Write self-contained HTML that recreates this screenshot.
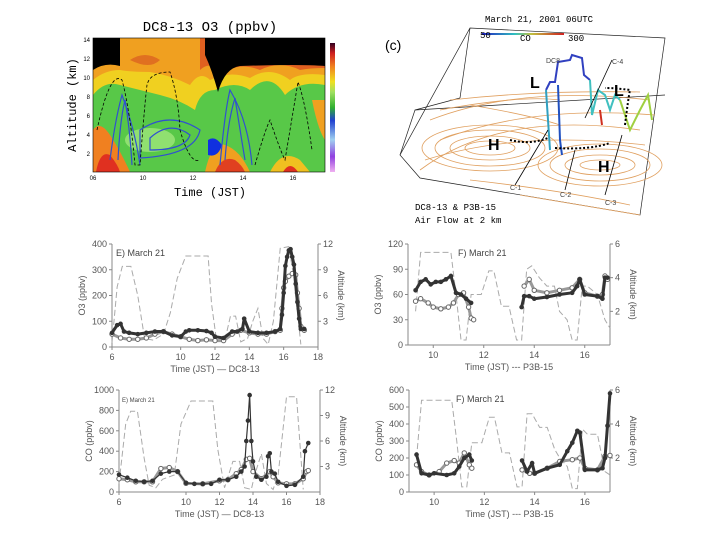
<!DOCTYPE html>
<html><head><meta charset="utf-8">
<style>
html,body{margin:0;padding:0;background:#fff;}
#root{position:relative;width:720px;height:540px;overflow:hidden;font-family:"Liberation Sans",sans-serif;}
svg text{font-family:"Liberation Sans",sans-serif;}
.mono{font-family:"Liberation Mono",monospace;}
</style></head>
<body>
<div id="root">
<svg id="heat" width="720" height="540" style="position:absolute;left:0;top:0">
  <defs>
    <linearGradient id="cbar" x1="0" y1="1" x2="0" y2="0">
      <stop offset="0" stop-color="#f0b0f0"/><stop offset="0.12" stop-color="#9040e0"/>
      <stop offset="0.25" stop-color="#a0d0f0"/><stop offset="0.4" stop-color="#2040d0"/>
      <stop offset="0.5" stop-color="#30b030"/><stop offset="0.62" stop-color="#a0e060"/>
      <stop offset="0.7" stop-color="#f0e020"/><stop offset="0.82" stop-color="#f08020"/>
      <stop offset="0.92" stop-color="#d02020"/><stop offset="1" stop-color="#300020"/>
    </linearGradient>
    <linearGradient id="cline" x1="0" x2="1"><stop offset="0" stop-color="#2020c0"/><stop offset="0.4" stop-color="#30c0c0"/><stop offset="0.6" stop-color="#c0c040"/><stop offset="1" stop-color="#d02020"/></linearGradient>
  </defs>
  <text class="mono" x="210" y="31" font-size="14" text-anchor="middle">DC8-13 O3 (ppbv)</text>
  <g>
    <rect x="93" y="38" width="232" height="134" fill="#58c848"/>
    <path d="M93,38 H325 V85 Q300,80 285,95 Q270,70 250,90 Q235,80 215,90 Q200,90 195,110 Q180,100 160,95 Q140,90 120,85 Q105,80 93,95Z" fill="#f0d020"/>
    <path d="M93,38 H325 V75 Q300,72 290,80 Q270,65 250,78 Q230,70 210,80 Q200,70 190,85 Q170,75 150,72 Q130,72 120,70 Q105,70 93,80Z" fill="#f0a020"/>
    <path d="M93,38 H325 V68 Q310,68 300,70 Q280,60 260,70 Q240,62 225,72 Q210,60 200,70 L200,38Z" fill="#e06020"/>
    <path d="M130,60 Q145,50 160,60 Q150,70 130,60Z" fill="#e07020"/>
    <path d="M93,38 H120 V66 Q105,62 93,70Z" fill="#000"/>
    <path d="M205,38 H325 V66 Q300,64 240,66 Q225,68 218,92 Q212,70 205,55Z" fill="#000"/>
    <path d="M93,172 V130 Q100,120 110,135 Q120,150 130,172Z" fill="#f08020"/>
    <path d="M96,172 Q100,150 110,155 Q118,165 120,172Z" fill="#e03020"/>
    <path d="M205,172 Q212,140 225,145 Q240,150 250,172Z" fill="#f0a020"/>
    <path d="M215,172 Q222,155 235,160 Q242,165 245,172Z" fill="#e04020"/>
    <path d="M270,172 Q282,148 300,160 Q310,172 310,172Z" fill="#f0c020"/>
    <path d="M283,172 Q290,160 298,172Z" fill="#e03020"/>
    <path d="M312,100 Q318,130 325,140 V100Z" fill="#f0a020"/>
    <path d="M208,140 Q215,135 222,145 Q218,158 208,155Z" fill="#1030e0"/>
    <ellipse cx="150" cy="140" rx="25" ry="12" fill="#90e070"/>
    <g fill="none" stroke="#3050d0" stroke-width="1.2">
      <path d="M150,138 Q170,120 190,135 Q185,150 150,150Z"/><path d="M140,130 Q170,110 200,130 Q195,155 140,158Z"/>
      <path d="M118,160 Q120,120 125,100 Q130,130 132,165"/><path d="M110,160 Q115,120 122,95 Q135,130 140,165"/>
      <path d="M225,160 Q228,120 235,98 Q240,130 245,160"/><path d="M220,165 Q225,110 230,90 Q248,120 252,165"/>
    </g>
    <g fill="none" stroke="#000" stroke-width="0.8" stroke-dasharray="3,2">
      <path d="M97,130 Q110,70 122,80 Q130,110 135,165 L140,165 Q145,100 147,85 Q150,72 170,72 Q178,95 180,130 Q190,165 200,160"/>
      <path d="M255,165 Q265,130 270,120 Q280,150 285,160 Q295,100 298,82 Q305,100 312,150"/>
    </g>
  </g>
  <rect x="93" y="38" width="232" height="134" fill="none" stroke="#000" stroke-width="0.6"/>
  <g font-size="6">
    <text x="90" y="42" text-anchor="end">14</text><text x="90" y="61" text-anchor="end">12</text>
    <text x="90" y="80" text-anchor="end">10</text><text x="90" y="99" text-anchor="end">8</text>
    <text x="90" y="118" text-anchor="end">6</text><text x="90" y="137" text-anchor="end">4</text>
    <text x="90" y="156" text-anchor="end">2</text>
  </g>
  <g font-size="6" text-anchor="middle">
    <text x="93" y="180">06</text><text x="143" y="180">10</text><text x="193" y="180">12</text>
    <text x="243" y="180">14</text><text x="293" y="180">16</text>
  </g>
  <text class="mono" x="210" y="196" font-size="12" text-anchor="middle">Time (JST)</text>
  <text class="mono" x="76" y="105" font-size="12" text-anchor="middle" transform="rotate(-90 76 105)">Altitude (km)</text>
  <rect x="330" y="43" width="5" height="129" fill="url(#cbar)"/>

  <g>
    <text class="mono" x="485" y="22" font-size="9">March 21, 2001  06UTC</text>
    <text x="385" y="50" font-size="14">(c)</text>
    <g fill="none" stroke="#222" stroke-width="0.7">
      <path d="M400,155 L470,28 L665,38 L640,215 L420,178 Z"/>
      <path d="M470,28 L460,98"/><path d="M400,155 L415,110 L665,95"/><path d="M415,110 L460,98"/>
    </g>
    <g fill="none" stroke="#e0a060" stroke-width="0.8">
      <ellipse cx="490" cy="148" rx="55" ry="18"/><ellipse cx="490" cy="148" rx="40" ry="12"/><ellipse cx="490" cy="148" rx="25" ry="7"/><ellipse cx="490" cy="148" rx="68" ry="23"/>
      <ellipse cx="600" cy="165" rx="50" ry="16"/><ellipse cx="600" cy="165" rx="35" ry="10"/><ellipse cx="600" cy="165" rx="20" ry="5"/><ellipse cx="600" cy="165" rx="62" ry="21"/>
      <path d="M420,170 Q500,110 640,130"/><path d="M430,120 Q520,85 650,100"/><path d="M440,140 Q530,105 655,115"/>
      <path d="M425,160 Q520,130 645,145"/><path d="M450,100 Q540,90 640,92"/><path d="M470,180 Q560,190 630,205"/>
      <path d="M520,195 Q580,205 640,215"/><path d="M440,110 Q520,95 560,100"/><path d="M470,105 Q530,115 560,125"/>
    </g>
    <rect x="482" y="33" width="82" height="2" fill="url(#cline)"/>
    <text class="mono" x="480" y="38" font-size="9">50</text>
    <text class="mono" x="520" y="41" font-size="9">CO</text>
    <text class="mono" x="568" y="41" font-size="9">300</text>
    <g fill="none" stroke-width="2">
      <path d="M546,90 L550,82 L555,82 L558,62 L570,60 L572,55 L582,58 L584,75 L590,80" stroke="#3040c0"/>
      <path d="M546,90 L548,120 L550,150" stroke="#30a0c0"/>
      <path d="M558,85 L560,140 L562,155" stroke="#2050c0"/>
      <path d="M590,80 L592,115 L598,90 L605,95 L610,110 L615,95 L620,100" stroke="#40c0c0"/>
      <path d="M620,100 L630,130 L640,110 L648,95 L652,120" stroke="#a0d040"/>
      <path d="M600,110 L602,125" stroke="#d03020"/>
    </g>
    <g fill="none" stroke="#000" stroke-width="2" stroke-dasharray="2,2">
      <path d="M510,140 Q530,145 548,138"/><path d="M555,148 Q590,150 610,143"/><path d="M625,125 Q628,100 630,90 Q615,88 605,88"/>
    </g>
    <g stroke="#000" stroke-width="0.8">
      <line x1="515" y1="185" x2="548" y2="130"/><line x1="565" y1="190" x2="575" y2="150"/>
      <line x1="605" y1="195" x2="622" y2="135"/><line x1="612" y1="60" x2="585" y2="118"/>
    </g>
    <g font-family="Liberation Serif" font-weight="bold" font-size="16">
      <text x="530" y="88">L</text><text x="614" y="96">L</text><text x="488" y="150">H</text><text x="598" y="172">H</text>
    </g>
    <g font-size="7" fill="#444"><text x="546" y="63">DC8</text><text x="612" y="64">C-4</text><text x="510" y="190">C-1</text><text x="560" y="197">C-2</text><text x="605" y="205">C-3</text></g>
    <text class="mono" x="415" y="210" font-size="9">DC8-13 &amp; P3B-15</text>
    <text class="mono" x="415" y="223" font-size="9">Air Flow at 2 km</text>
  </g>
</svg>
<svg id="charts" width="720" height="540" style="position:absolute;left:0;top:0"></svg>
<script>
const eTimesA=[6,6.3,6.5,6.7,7,7.5,8,8.5,9,9.5,10,10.3,10.5,11,11.5,11.8,12,12.5,13,13.3,13.6,13.7,14,14.5,15,15.5,15.8,15.9,16,16.1,16.2,16.3,16.4,16.5,16.6,16.7,16.8,16.9,17,17.2];
const eO3A=[55,85,90,60,55,50,55,60,60,45,40,60,65,65,62,55,40,35,60,60,70,110,60,55,55,60,70,125,210,315,350,375,380,350,320,245,175,110,70,70];
const eTimesB=[6,6.5,7,7.5,8,8.5,9,9.5,10,10.5,11,11.5,12,12.5,13,13.5,14,14.5,15,15.5,15.8,15.9,16,16.1,16.3,16.5,16.7,16.8,16.9,17,17.2];
const eO3B=[50,35,30,30,35,50,60,50,40,30,25,28,25,25,50,65,55,50,50,60,65,150,230,255,275,285,280,210,150,80,65];
const eAltT=[6,6.3,6.6,7.1,7.5,7.9,8.4,9.0,9.4,9.8,10.3,11.6,11.8,12.1,12.6,12.9,13.2,13.5,13.9,14.2,14.5,14.8,15.1,15.4,15.8,16.3,16.6,17.0];
const eAlt=[0.5,7,9.4,9.4,6,1,0.8,1.5,4,8,10.6,10.6,5,0.6,1,3.6,3.6,0.6,1,3,4.5,1,0.3,3,11.5,11.7,8,0.3];
const fTimesA=[9.3,9.5,9.7,9.9,10.1,10.3,10.5,10.7,10.9,11.1,11.3,11.5,13.5,13.6,13.8,14,14.5,15,15.5,15.7,15.8,16,16.5,16.7,16.8,16.9];
const fO3A=[65,75,78,72,75,75,78,82,62,60,55,50,45,58,58,55,57,60,62,70,78,60,58,55,80,80];
const fTimesB=[9.3,9.5,9.8,10,10.3,10.6,10.8,11,11.2,11.4,11.5,11.6,13.6,13.8,14,14.5,15,15.5,15.8,16,16.5,16.7,16.8,16.9];
const fO3B=[52,55,50,45,43,45,50,60,62,45,32,30,70,78,65,62,65,68,78,62,58,60,82,78];
const fAltT=[9.3,9.5,10.7,10.9,11.1,11.3,11.5,11.9,12.2,12.4,12.7,13,13.3,13.5,13.7,13.9,14.2,14.5,14.8,15,15.3,15.5,15.7,15.9,16.1,16.5,16.8,17];
const fAlt=[2,5.5,5.5,3,0.3,0.3,3,3,4.4,4.4,2.3,2.3,0.3,0.3,4.5,4.7,4,3.5,3.5,2,1.5,0.3,0.3,3.5,3.5,3,1.5,1];
const gTimesA=[6,6.5,7,7.5,8,8.5,9,9.5,10,10.5,11,11.5,12,12.5,13,13.3,13.5,13.6,13.7,13.8,13.9,14,14.2,14.5,14.8,14.9,15,15.1,15.3,15.5,16,16.5,17,17.1,17.3];
const gCOA=[170,140,110,100,110,180,200,200,90,80,80,80,120,120,150,200,250,500,700,950,500,300,150,120,150,350,380,200,180,100,60,70,150,400,480];
const gTimesB=[6,6.5,7,7.5,8,8.5,9,9.5,10,11,12,12.5,13,13.3,13.6,13.8,14,14.5,15,15.2,15.5,16,16.5,17,17.2,17.3];
const gCOB=[130,120,100,100,100,230,240,200,85,80,110,120,180,220,320,330,200,130,200,150,90,80,80,130,200,210];
const gAltT=[6,6.4,6.7,7.1,7.5,7.8,8.2,8.6,9.3,9.7,10.3,11.6,11.9,12.3,12.8,13.2,13.5,13.9,14.1,14.5,14.8,15.2,15.5,16.0,16.6,17.0];
const gAlt=[1,8,9.5,9.5,4,0.8,0.5,1.5,2,8,10.7,10.7,5,0.5,3.6,3.6,0.5,0.3,2,4.5,1,0.3,2,11.2,11.2,0.3];
const hTimesA=[9.3,9.5,9.8,10,10.5,10.8,11,11.2,11.4,11.5,13.5,13.7,13.9,14,14.5,15,15.3,15.5,15.7,15.8,16,16.5,16.7,16.8,16.9,17];
const hCOA=[220,110,100,110,100,110,150,200,220,185,185,120,170,110,140,160,240,290,360,350,130,130,140,200,390,580];
const hTimesB=[9.3,9.5,9.8,10.2,10.5,10.8,11,11.2,11.4,11.5,13.5,13.8,14,14.5,15,15.5,15.8,16,16.5,16.8,17];
const hCOB=[160,120,100,120,170,185,170,230,160,140,130,110,110,140,180,190,200,140,130,210,215];
const hAltT=[9.3,9.5,10.7,10.9,11.1,11.3,11.5,11.9,12.2,12.4,12.7,13,13.3,13.5,13.7,13.9,14.2,14.5,14.8,15,15.3,15.5,15.7,15.9,16.1,16.5,16.8,17];
const hAlt=[2,5.4,5.4,3,0.3,0.3,2.9,2.9,4.4,4.4,2.3,2.3,0.3,0.3,4.6,4.6,3.8,3.8,2.5,2,1.5,0.2,0.2,3.7,3.4,3.4,1.2,1];

const eXTicks=[6,10,12,14,16,18], eYTicks=[0,100,200,300,400], eRTicks=[3,6,9,12];
const fXTicks=[10,12,14,16], fYTicks=[0,30,60,90,120], fRTicks=[2,4,6];
const gXTicks=[6,10,12,14,16,18], gYTicks=[0,200,400,600,800,1000], gRTicks=[3,6,9,12];
const hXTicks=[10,12,14,16], hYTicks=[0,100,200,300,400,500,600], hRTicks=[2,4,6];

const NS='http://www.w3.org/2000/svg';
const root=document.getElementById('charts');
function mk(tag,attrs,parent){const e=document.createElementNS(NS,tag);for(const k in attrs)e.setAttribute(k,attrs[k]);(parent||root).appendChild(e);return e;}
function seg(ts,vs,sx,sy){let d='';ts.forEach((t,i)=>{d+=(i===0||t-ts[i-1]>1?'M':'L')+sx(t)+','+sy(vs[i]);});return d;}
function panel(p){
  const g=mk('g',{});
  
  
  const sx=t=>p.x0+(t-p.t0)/(p.t1-p.t0)*(p.x1-p.x0);
  const sy=v=>p.y1-(v-p.v0)/(p.v1-p.v0)*(p.y1-p.y0);
  const sr=v=>p.y1-v/p.r1*(p.y1-p.y0);
  mk('line',{x1:p.x0,y1:p.y0,x2:p.x0,y2:p.y1,stroke:'#888','stroke-width':1},g);
  mk('line',{x1:p.x0,y1:p.y1,x2:p.x1,y2:p.y1,stroke:'#888','stroke-width':1},g);
  mk('line',{x1:p.x1,y1:p.y0,x2:p.x1,y2:p.y1,stroke:'#888','stroke-width':1},g);
  p.yt.forEach(v=>{const y=sy(v);mk('line',{x1:p.x0-3,y1:y,x2:p.x0,y2:y,stroke:'#888'},g);
    const t=mk('text',{x:p.x0-5,y:y+3,'font-size':9,'text-anchor':'end',fill:'#555'},g);t.textContent=v;});
  p.rt.forEach(v=>{const y=sr(v);mk('line',{x1:p.x1,y1:y,x2:p.x1+3,y2:y,stroke:'#888'},g);
    const t=mk('text',{x:p.x1+5,y:y+3,'font-size':9,fill:'#555'},g);t.textContent=v;});
  p.xt.forEach(v=>{const x=sx(v);mk('line',{x1:x,y1:p.y1,x2:x,y2:p.y1+3,stroke:'#888'},g);
    const t=mk('text',{x:x,y:p.y1+13,'font-size':9,'text-anchor':'middle',fill:'#555'},g);t.textContent=v;});
  const xt=mk('text',{x:(p.x0+p.x1)/2,y:p.y1+25,'font-size':9,'text-anchor':'middle',fill:'#555'},g);
  xt.textContent=p.xtitle;
  const yx=p.x0-27,ym=(p.y0+p.y1)/2;
  const yt=mk('text',{x:yx,y:ym,'font-size':9,'text-anchor':'middle',fill:'#555',transform:`rotate(-90 ${yx} ${ym})`},g);
  yt.textContent=p.ytitle;
  const rx=p.x1+20;
  const rt=mk('text',{x:rx,y:ym,'font-size':9,'text-anchor':'middle',fill:'#555',transform:`rotate(90 ${rx} ${ym})`},g);
  rt.textContent='Altitude (km)';
  const lab=mk('text',{x:p.lx,y:p.y0+12,'font-size':p.lfs||9,fill:'#444'},g);
  lab.textContent=p.label;
  const alt=mk('path',{d:p.altT.map((t,i)=>(i?'L':'M')+sx(t)+','+sr(p.alt[i])).join(''),fill:'none',stroke:'#aaa','stroke-width':1,'stroke-dasharray':'6,3'},g);
  
  const bandB=mk('path',{d:seg(p.tB,p.vB,sx,sy),fill:'none',stroke:'#999','stroke-width':3,'stroke-linejoin':'round'},g);
  
  p.tB.forEach((t,i)=>{const c=mk('circle',{cx:sx(t),cy:sy(p.vB[i]),r:2.2,fill:'#fff',stroke:'#666','stroke-width':1},g);
    });
  const bandA=mk('path',{d:seg(p.tA,p.vA,sx,sy),fill:'none',stroke:'#333','stroke-width':p.lineA?1.2:3,'stroke-linejoin':'round'},g);
  
  p.tA.forEach((t,i)=>{const c=mk('circle',{cx:sx(t),cy:sy(p.vA[i]),r:2.3,fill:'#333'},g);
    });
}
panel({name:'panel-e-o3-dc8',x0:112,x1:318,y0:244,y1:347,t0:6,t1:18,v0:0,v1:400,r1:12,xt:eXTicks,yt:eYTicks,rt:eRTicks,
  tA:eTimesA,vA:eO3A,tB:eTimesB,vB:eO3B,altT:eAltT,alt:eAlt,xtitle:'Time (JST) — DC8-13',ytitle:'O3 (ppbv)',label:'E) March 21',lx:116});
panel({name:'panel-f-o3-p3b',x0:408,x1:610,y0:244,y1:345,t0:9,t1:17,v0:0,v1:120,r1:6,xt:fXTicks,yt:fYTicks,rt:fRTicks,
  tA:fTimesA,vA:fO3A,tB:fTimesB,vB:fO3B,altT:fAltT,alt:fAlt,xtitle:'Time (JST) --- P3B-15',ytitle:'O3 (ppbv)',label:'F) March 21',lx:458});
panel({name:'panel-g-co-dc8',x0:119,x1:320,y0:390,y1:492,t0:6,t1:18,v0:0,v1:1000,r1:12,xt:gXTicks,yt:gYTicks,rt:gRTicks,
  tA:gTimesA,vA:gCOA,tB:gTimesB,vB:gCOB,altT:gAltT,alt:gAlt,xtitle:'Time (JST) — DC8-13',ytitle:'CO (ppbv)',label:'E) March 21',lx:122,lfs:6,lineA:true});
panel({name:'panel-h-co-p3b',x0:409,x1:610,y0:390,y1:492,t0:9,t1:17,v0:0,v1:600,r1:6,xt:hXTicks,yt:hYTicks,rt:hRTicks,
  tA:hTimesA,vA:hCOA,tB:hTimesB,vB:hCOB,altT:hAltT,alt:hAlt,xtitle:'Time (JST) --- P3B-15',ytitle:'CO (ppbv)',label:'F) March 21',lx:456});
</script>
</div>
</body></html>
